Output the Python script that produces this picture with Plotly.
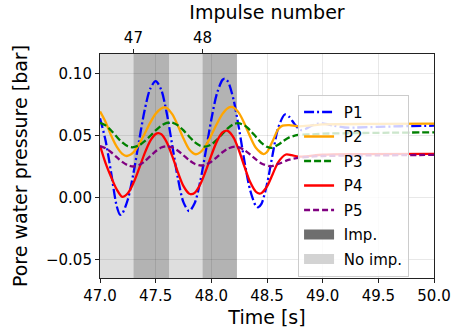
import plotly.graph_objects as go

# ---------------- data ----------------
t_p1 = [47.00, 47.05, 47.10, 47.15, 47.18, 47.20, 47.25, 47.30, 47.35, 47.40, 47.45, 47.50,
        47.55, 47.60, 47.65, 47.70, 47.75, 47.80, 47.85, 47.90, 47.95, 48.00, 48.05, 48.10,
        48.12, 48.15, 48.20, 48.25, 48.30, 48.35, 48.40, 48.42, 48.45, 48.50, 48.55, 48.60,
        48.66, 48.70, 48.75, 48.80, 48.85, 48.90, 48.95, 49.00, 49.10, 49.20, 49.30, 49.50,
        49.70, 50.00]
p1 = [0.064, 0.046, 0.020, -0.007, -0.014, -0.013, -0.0017, 0.0193, 0.0453, 0.070, 0.0876, 0.094,
      0.087, 0.0678, 0.0415, 0.0153, -0.004, -0.011, -0.0047, 0.0128, 0.0373, 0.063, 0.0839, 0.095,
      0.096, 0.0935, 0.0788, 0.0548, 0.0279, 0.0054, -0.0069, -0.008, -0.0052, 0.0108, 0.0344, 0.056,
      0.067, 0.065, 0.059, 0.0545, 0.0555, 0.058, 0.0595, 0.0598, 0.058, 0.0565, 0.0565, 0.057,
      0.0575, 0.058]

t_p2 = [47.00, 47.05, 47.10, 47.15, 47.20, 47.24, 47.30, 47.35, 47.40, 47.45, 47.50, 47.55,
        47.58, 47.60, 47.65, 47.70, 47.75, 47.80, 47.86, 47.90, 47.95, 48.00, 48.05, 48.10,
        48.15, 48.18, 48.20, 48.25, 48.30, 48.35, 48.40, 48.47, 48.50, 48.55, 48.60, 48.64,
        48.70, 48.78, 48.90, 49.00, 49.50, 50.00]
p2 = [0.0695, 0.061, 0.0500, 0.0410, 0.0352, 0.0335, 0.0364, 0.0428, 0.0513, 0.0602, 0.0676, 0.0719,
      0.0727, 0.0722, 0.0672, 0.0580, 0.0476, 0.0390, 0.0349, 0.0364, 0.0419, 0.0503, 0.0595, 0.0675,
      0.0723, 0.0731, 0.0727, 0.0679, 0.0592, 0.0489, 0.0402, 0.0350, 0.0367, 0.0454, 0.0550, 0.0580,
      0.0585, 0.0575, 0.0582, 0.0590, 0.0594, 0.0596]

t_p3 = [47.00, 47.05, 47.10, 47.15, 47.20, 47.25, 47.29, 47.35, 47.40, 47.45, 47.50, 47.55,
        47.60, 47.63, 47.65, 47.70, 47.75, 47.80, 47.85, 47.90, 47.94, 48.00, 48.05, 48.10,
        48.15, 48.20, 48.24, 48.30, 48.35, 48.40, 48.45, 48.50, 48.54, 48.60, 48.65, 48.70,
        48.78, 48.90, 49.00, 49.30, 49.60, 50.00]
p3 = [0.0604, 0.0582, 0.0541, 0.0490, 0.0444, 0.0413, 0.0405, 0.0420, 0.0453, 0.0496, 0.0542, 0.0580,
      0.0602, 0.0606, 0.0604, 0.0582, 0.0542, 0.0493, 0.0448, 0.0418, 0.0410, 0.0428, 0.0466, 0.0515,
      0.0561, 0.0592, 0.0600, 0.0581, 0.0541, 0.0490, 0.0441, 0.0409, 0.0400, 0.0425, 0.0458, 0.0485,
      0.0505, 0.0510, 0.0515, 0.0520, 0.0523, 0.0526]

t_p4 = [47.00, 47.05, 47.10, 47.15, 47.20, 47.25, 47.30, 47.35, 47.40, 47.45, 47.50, 47.525,
        47.55, 47.60, 47.65, 47.70, 47.75, 47.80, 47.82, 47.85, 47.90, 47.95, 48.00, 48.05,
        48.10, 48.135, 48.15, 48.20, 48.25, 48.30, 48.35, 48.40, 48.433, 48.45, 48.50, 48.55,
        48.60, 48.67, 48.72, 48.78, 48.85, 49.00, 49.30, 50.00]
p4 = [0.0420, 0.0278, 0.0165, 0.0065, 0.0005, 0.0034, 0.0116, 0.0231, 0.0354, 0.0455, 0.0513, 0.0520,
      0.0511, 0.0445, 0.0332, 0.0202, 0.0091, 0.0031, 0.0026, 0.0037, 0.0104, 0.0214, 0.0340, 0.0453,
      0.0525, 0.0540, 0.0537, 0.0483, 0.0375, 0.0243, 0.0122, 0.0046, 0.0031, 0.0035, 0.0089, 0.0186,
      0.0284, 0.0347, 0.0342, 0.0330, 0.0332, 0.0345, 0.0350, 0.0352]

t_p5 = [47.00, 47.05, 47.10, 47.15, 47.20, 47.25, 47.30, 47.35, 47.40, 47.45, 47.50, 47.55,
        47.60, 47.65, 47.70, 47.75, 47.80, 47.85, 47.91, 47.95, 48.00, 48.05, 48.10, 48.15,
        48.21, 48.25, 48.30, 48.35, 48.40, 48.45, 48.53, 48.60, 48.70, 48.80, 48.90, 49.00,
        49.50, 50.00]
p5 = [0.0414, 0.0397, 0.0365, 0.0325, 0.0287, 0.0260, 0.0250, 0.0261, 0.0291, 0.0332, 0.0373, 0.0403,
      0.0414, 0.0404, 0.0377, 0.0340, 0.0302, 0.0272, 0.0258, 0.0265, 0.0289, 0.0326, 0.0365, 0.0395,
      0.0410, 0.0404, 0.0381, 0.0346, 0.0308, 0.0275, 0.0252, 0.0270, 0.0305, 0.0322, 0.0330, 0.0335,
      0.0340, 0.0344]

imp_start = [47.30, 47.92]
imp_end = [47.62, 48.23]
noimp_start = [46.68, 47.62]
noimp_end = [47.30, 47.92]
impulse_labels = ["47", "48"]

x_range = [47.0, 50.0]
y_range = [-0.0651, 0.1159]
x_ticks = [47.0, 47.5, 48.0, 48.5, 49.0, 49.5, 50.0]
y_ticks = [-0.05, 0.0, 0.05, 0.10]
y_ticklabels = ["\u22120.05", "0.00", "0.05", "0.10"]

# ---------------- figure ----------------
FONT = "DejaVu Sans"
NB = "\u00a0"  # small lead so legend text sits as in the reference
fig = go.Figure()

series = [
    ("P1", t_p1, p1, "#0000ff", "10px,3px,2px,3px"),
    ("P2", t_p2, p2, "#ffa500", "solid"),
    ("P3", t_p3, p3, "#008000", "7px,3px"),
    ("P4", t_p4, p4, "#ff0000", "solid"),
    ("P5", t_p5, p5, "#800080", "6px,3px"),
]
for name, tx, vy, col, dash in series:
    fig.add_trace(go.Scatter(
        x=tx, y=vy, name=NB + name, mode="lines", legendgroup=name,
        line=dict(color=col, width=2.3, dash=dash, shape="spline", smoothing=0.8),
    ))

# legend-only patches for the shaded regions
for name, col in [("Imp.", "#6e6e6e"), ("No imp.", "#d3d3d3")]:
    fig.add_trace(go.Scatter(x=[None], y=[None], name=NB + name, mode="lines",
                             legendgroup=name, line=dict(color=col, width=13),
                             hoverinfo="skip"))

shapes = []
for s, e in zip(noimp_start, noimp_end):
    shapes.append(dict(type="rect", xref="x", yref="y domain", x0=s, x1=e, y0=0, y1=1,
                       fillcolor="#dedede", line=dict(width=0), layer="below"))
for s, e in zip(imp_start, imp_end):
    shapes.append(dict(type="rect", xref="x", yref="y domain", x0=s, x1=e, y0=0, y1=1,
                       fillcolor="#b3b3b3", line=dict(width=0), layer="below"))

# helper (invisible) trace to carry the top axis
fig.add_trace(go.Scatter(x=imp_start, y=[y_ticks[1]] * len(imp_start), xaxis="x2",
                         mode="markers", marker=dict(opacity=0), showlegend=False,
                         hoverinfo="skip"))

axis_common = dict(
    showline=True, linecolor="#222222", linewidth=1.1,
    ticks="outside", ticklen=4, tickwidth=1.1, tickcolor="#222222",
    tickfont=dict(family=FONT, size=15, color="black"),
    gridcolor="rgba(0,0,0,0.09)", gridwidth=1, zeroline=False,
)

fig.update_layout(
    width=463, height=336,
    margin=dict(l=100, r=27, t=54, b=51),
    plot_bgcolor="white", paper_bgcolor="white",
    font=dict(family=FONT, size=15, color="black"),
    shapes=shapes,
    xaxis=dict(range=x_range, tickvals=x_ticks, tickformat=".1f", mirror=True, showgrid=True,
               title=dict(text="Time [s]", font=dict(family=FONT, size=19), standoff=6),
               **axis_common),
    yaxis=dict(range=y_range, tickvals=y_ticks, ticktext=y_ticklabels, mirror=True, showgrid=True,
               title=dict(text="Pore water pressure [bar]", font=dict(family=FONT, size=19), standoff=13),
               **axis_common),
    xaxis2=dict(overlaying="x", side="top", anchor="y", range=x_range, tickvals=imp_start,
                ticktext=impulse_labels, showgrid=False, showline=False,
                ticks="outside", ticklen=4, tickwidth=1.1, tickcolor="#222222",
                tickfont=dict(family=FONT, size=15, color="black"),
                title=dict(text="Impulse number", font=dict(family=FONT, size=19), standoff=4)),
    legend=dict(x=0.593, y=0.818, xanchor="left", yanchor="top",
                traceorder="grouped", tracegroupgap=2,
                bgcolor="rgba(255,255,255,0.8)", bordercolor="#cccccc", borderwidth=1,
                font=dict(family=FONT, size=15, color="black")),
    showlegend=True,
)

fig.write_html("out.html")
